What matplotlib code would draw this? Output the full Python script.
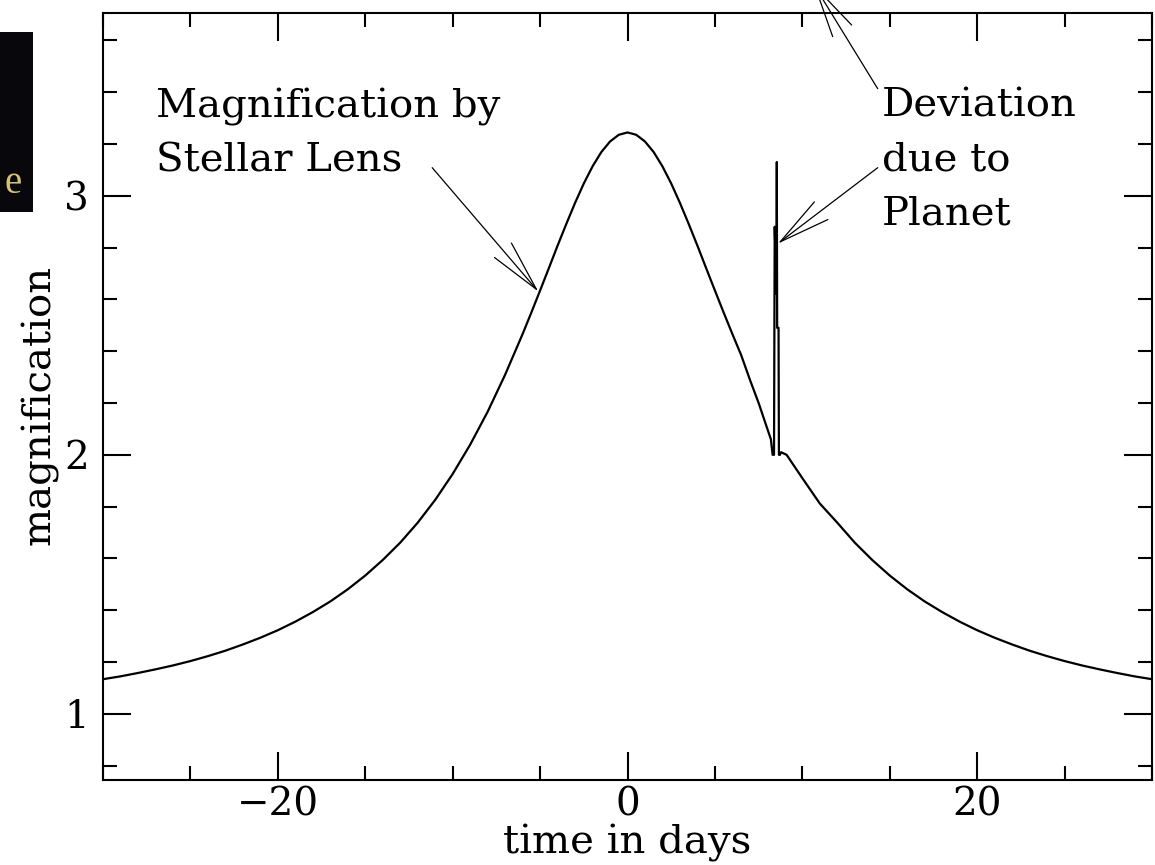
import matplotlib
matplotlib.use("Agg")
import matplotlib.pyplot as plt
from matplotlib.ticker import MultipleLocator
from matplotlib.patches import Rectangle

plt.rcParams['font.family'] = ['DejaVu Serif']

# light curve of the event: time (days from peak) and magnification
t_days = [-30, -29, -28, -27, -26, -25, -24, -23, -22, -21, -20, -19, -18, -17,
          -16, -15, -14, -13, -12, -11, -10, -9, -8, -7, -6,
          -5.5, -5, -4.5, -4, -3.5, -3, -2.5, -2, -1.5, -1, -0.5, 0,
          0.5, 1, 1.5, 2, 2.5, 3, 3.5, 4, 4.5, 5, 5.5, 6, 6.5, 7, 7.5,
          8.0, 8.2, 8.3, 8.38, 8.42, 8.47, 8.52, 8.54, 8.56, 8.64, 8.66,
          8.72, 8.78, 9.1, 9.5, 10, 11,
          12, 13, 14, 15, 16, 17, 18, 19, 20, 21, 22, 23, 24, 25, 26, 27,
          28, 29, 30]
magnification = [1.134, 1.145, 1.158, 1.172, 1.187, 1.204, 1.223, 1.244, 1.268,
                 1.294, 1.323, 1.356, 1.393, 1.434, 1.481, 1.534, 1.594, 1.661,
                 1.738, 1.826, 1.926, 2.039, 2.166, 2.309, 2.466,
                 2.549, 2.634, 2.720, 2.807, 2.891, 2.972, 3.047, 3.113, 3.168,
                 3.209, 3.235, 3.244,
                 3.235, 3.209, 3.168, 3.113, 3.047, 2.972, 2.891, 2.807, 2.720,
                 2.634, 2.549, 2.466, 2.385, 2.290, 2.200,
                 2.100, 2.060, 2.000, 2.000, 2.880, 2.750, 2.620, 3.130, 2.490,
                 2.490, 2.000, 2.000, 2.010, 2.000, 1.960, 1.910, 1.812,
                 1.738, 1.661, 1.594, 1.534, 1.481, 1.434, 1.393, 1.356, 1.323,
                 1.294, 1.268, 1.244, 1.223, 1.204, 1.187, 1.172, 1.158, 1.145,
                 1.134]

fig = plt.figure(figsize=(11.55, 8.65), dpi=100)
ax = fig.add_axes([103 / 1155, 85 / 865, 1049 / 1155, 767 / 865])

ax.plot(t_days, magnification, color='black', lw=1.6)

ax.set_xlim(-30, 30)
ax.set_ylim(0.745, 3.705)

ax.xaxis.set_major_locator(MultipleLocator(20))
ax.xaxis.set_minor_locator(MultipleLocator(5))
ax.yaxis.set_major_locator(MultipleLocator(1))
ax.yaxis.set_minor_locator(MultipleLocator(0.2))
ax.tick_params(which='both', direction='in', top=True, right=True,
               width=1.5, labelsize=28)
ax.tick_params(which='major', length=20)
ax.tick_params(which='minor', length=10)
ax.tick_params(axis='x', pad=5)
ax.tick_params(axis='y', pad=10)
for s in ax.spines.values():
    s.set_linewidth(1.5)

ax.set_xlabel('time in days', fontsize=29, va='center')
ax.xaxis.set_label_coords(0.5, -0.082)
ax.set_ylabel('magnification', fontsize=29, va='center')
ax.yaxis.set_label_coords(-0.060, 0.489)

# annotations
txt = dict(fontsize=29, ha='left', va='baseline')
ax.text(-26.97, 3.301, 'Magnification by', **txt)
ax.text(-26.97, 3.093, 'Stellar Lens', **txt)
ax.text(14.54, 3.305, 'Deviation', **txt)
ax.text(14.54, 3.097, 'due to', **txt)
ax.text(14.54, 2.888, 'Planet', **txt)

arrow = dict(arrowstyle='->,head_length=3.7,head_width=0.8', color='black',
             lw=0.9, shrinkA=0, shrinkB=0, mutation_scale=10)
ax.annotate('', xy=(-5.1, 2.63), xytext=(-11.17, 3.108), arrowprops=arrow)
ax.annotate('', xy=(8.6, 2.815), xytext=(14.31, 3.108), arrowprops=arrow)
ax.annotate('', xy=(10.65, 3.815), xytext=(14.31, 3.413), arrowprops=arrow,
            annotation_clip=False)

# dark slide fragment at the upper left
panel = Rectangle((0, 653 / 865), 33 / 1155, 180 / 865, transform=fig.transFigure,
                  facecolor='#08080c', edgecolor='none', zorder=5)
fig.patches.append(panel)
fig.text(4 / 1155, (865 - 193) / 865, 'e', color='#d6c07a', fontsize=28,
         family='Liberation Serif', ha='left', va='baseline', zorder=6)

fig.savefig('out.png', dpi=100)
